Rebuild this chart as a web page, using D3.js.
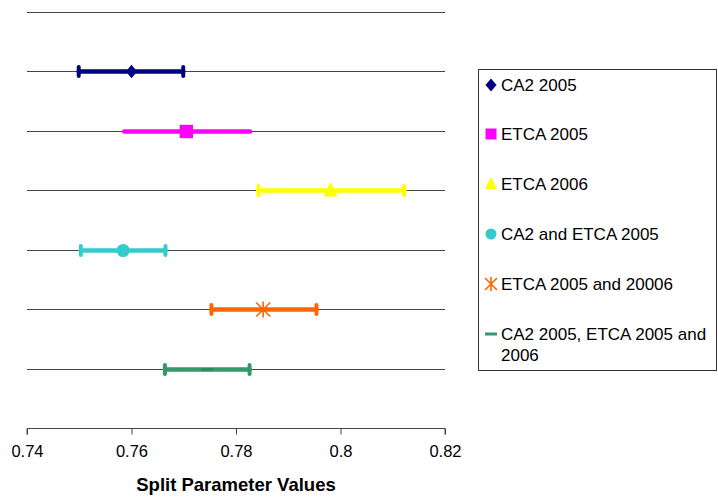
<!DOCTYPE html>
<html>
<head>
<meta charset="utf-8">
<script src="https://cdn.jsdelivr.net/npm/d3@7"></script>
<style>
  body { margin: 0; background: #fff; }
  text { font-family: "Liberation Sans", Arial, sans-serif; }
</style>
</head>
<body>
<svg id="chart" width="718" height="499"></svg>
<script>
// Split parameter estimates with their error ranges, one row per data set
const series = ["CA2 2005", "ETCA 2005", "ETCA 2006", "CA2 and ETCA 2005", "ETCA 2005 and 20006", "CA2 2005, ETCA 2005 and 2006"];
const centers = [0.7600, 0.7705, 0.7981, 0.7584, 0.7852, 0.7745];
const lows    = [0.7499, 0.7586, 0.7843, 0.7503, 0.7753, 0.7664];
const highs   = [0.7699, 0.7827, 0.8122, 0.7665, 0.7954, 0.7826];
const rows    = [6, 5, 4, 3, 2, 1];
const xTicks  = [0.74, 0.76, 0.78, 0.80, 0.82];
const xTickLabels = ["0.74", "0.76", "0.78", "0.8", "0.82"];

const colors  = ["#000080", "#FF00FF", "#FFFF00", "#33CCCC", "#FF6600", "#339966"];
const shapes  = ["diamond", "square", "triangle", "circle", "star", "dash"];
const capped  = [true, false, true, true, true, true];

const svg = d3.select("#chart");
const x = d3.scaleLinear().domain([0.74, 0.82]).range([27, 445]);
const y = d3.scaleLinear().domain([0, 7]).range([428, 12]);

// horizontal gridlines
svg.append("g").selectAll("line").data(d3.range(1, 8)).join("line")
  .attr("x1", x(0.74)).attr("x2", x(0.82))
  .attr("y1", d => Math.round(y(d)) + 0.5).attr("y2", d => Math.round(y(d)) + 0.5)
  .attr("stroke", "#444").attr("stroke-width", 1);

// x axis
const axis = d3.axisBottom(x).tickValues(xTicks).tickFormat((d, i) => xTickLabels[i])
  .tickSize(6).tickPadding(11);
const ax = svg.append("g").attr("transform", `translate(0,${Math.round(y(0)) + 0.5})`).call(axis);
ax.select(".domain").attr("stroke", "#444").attr("d", `M${x(0.74)},6V0H${x(0.82)}V6`);
ax.selectAll(".tick line").attr("stroke", "#444");
ax.selectAll(".tick text").attr("font-size", 16.5).attr("fill", "#000")
  .attr("font-family", "Liberation Sans, Arial, sans-serif");

svg.append("text").attr("x", (x(0.74) + x(0.82)) / 2).attr("y", 491)
  .attr("text-anchor", "middle").attr("font-size", 18.5).attr("font-weight", "bold")
  .text("Split Parameter Values");

// marker drawing; s is the half-width of the symbol
function marker(g, shape, color, s) {
  if (shape === "diamond") {
    g.append("path").attr("d", `M0,${-s * 1.2}L${s},0L0,${s * 1.2}L${-s},0Z`).attr("fill", color);
  } else if (shape === "square") {
    g.append("rect").attr("x", -s).attr("y", -s).attr("width", s * 2).attr("height", s * 2).attr("fill", color);
  } else if (shape === "triangle") {
    g.append("path").attr("d", `M0,${-s * 1.2}L${s},${s * 0.85}L${-s},${s * 0.85}Z`).attr("fill", color);
  } else if (shape === "circle") {
    g.append("circle").attr("r", s).attr("fill", color);
  } else if (shape === "star") {
    const r = s;
    g.append("path")
      .attr("d", `M${-r},${-r}L${r},${r}M${-r},${r}L${r},${-r}M0,${-r * 1.15}V${r * 1.15}`)
      .attr("stroke", color).attr("stroke-width", 1.6).attr("fill", "none");
  } else if (shape === "dash") {
    g.append("rect").attr("x", -s).attr("y", -1.5).attr("width", s * 2).attr("height", 3).attr("fill", color);
  }
}

const plotSizes = [5.7, 6.7, 7, 6.6, 7, 6];
const legendSizes = [5.5, 5.5, 6, 5.5, 6, 6];

// error bars and markers
series.forEach((name, i) => {
  const cy = Math.round(y(rows[i])) + 0.5;
  const g = svg.append("g");
  g.append("line").attr("x1", x(lows[i])).attr("x2", x(highs[i]))
    .attr("y1", cy).attr("y2", cy)
    .attr("stroke", colors[i]).attr("stroke-width", 4.5).attr("stroke-linecap", "round");
  if (capped[i]) {
    [lows[i], highs[i]].forEach(v => {
      g.append("line").attr("x1", x(v)).attr("x2", x(v))
        .attr("y1", cy - 4.5).attr("y2", cy + 4.5)
        .attr("stroke", colors[i]).attr("stroke-width", 4).attr("stroke-linecap", "round");
    });
  }
  const m = g.append("g").attr("transform", `translate(${x(centers[i])},${cy})`);
  marker(m, shapes[i], i === 5 ? "#2e8b5f" : colors[i], plotSizes[i]);
});

// legend
const legend = svg.append("g");
legend.append("rect").attr("x", 478.5).attr("y", 69.5).attr("width", 238).attr("height", 301)
  .attr("fill", "#fff").attr("stroke", "#333").attr("stroke-width", 1);
const legendY = [85, 134, 184, 234, 284, 334];
series.forEach((name, i) => {
  const ly = legendY[i];
  const m = legend.append("g").attr("transform", `translate(491,${ly})`);
  marker(m, shapes[i], colors[i], legendSizes[i]);
  const t = legend.append("text").attr("x", 501).attr("y", ly + 6)
    .attr("font-size", 17).attr("fill", "#000");
  if (i === 5) {
    t.append("tspan").attr("x", 501).text("CA2 2005, ETCA 2005 and");
    t.append("tspan").attr("x", 501).attr("dy", 21).text("2006");
  } else {
    t.text(name);
  }
});
</script>
</body>
</html>
